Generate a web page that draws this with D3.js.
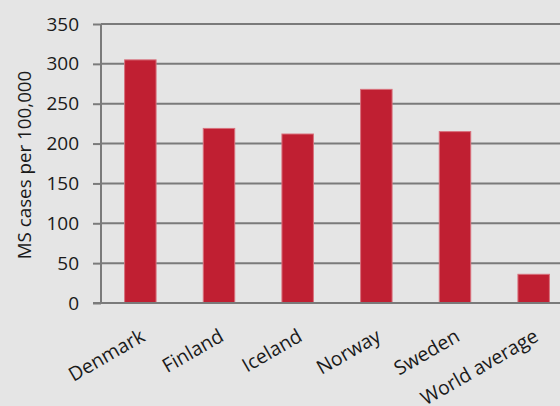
<!DOCTYPE html>
<html>
<head>
<meta charset="utf-8">
<script src="https://cdn.jsdelivr.net/npm/d3@7"></script>
<style>
  body { margin: 0; background: #e5e5e5; }
  svg { display: block; font-family: "Open Sans", sans-serif; }
  .tick text { fill: #1a1a1a; }
</style>
</head>
<body>
<svg id="chart" width="560" height="406"></svg>
<script>
// Data
const countries = ["Denmark", "Finland", "Iceland", "Norway", "Sweden", "World average"];
const msCases = [305, 219, 212, 268, 215, 36];
const yTicks = [0, 50, 100, 150, 200, 250, 300, 350];

const svg = d3.select("#chart");
const margin = { top: 24, left: 101, bottom: 303, right: 573 };

svg.append("rect").attr("width", 560).attr("height", 406).attr("fill", "#e5e5e5");

const x = d3.scaleBand()
  .domain(countries)
  .range([margin.left, margin.right])
  .paddingInner(0.6)
  .paddingOuter(0.3);

const y = d3.scaleLinear().domain([0, 350]).range([margin.bottom, margin.top]);

// gridlines + y ticks
const yAxis = svg.append("g")
  .attr("transform", `translate(${margin.left},0)`)
  .call(d3.axisLeft(y).tickValues(yTicks).tickSize(8).tickPadding(14));
yAxis.select(".domain").remove();
yAxis.selectAll(".tick line").attr("stroke", "#7a7a7a").attr("stroke-width", 2);
yAxis.selectAll(".tick text").attr("font-size", 19).attr("font-family", "Open Sans");

svg.append("g")
  .selectAll("line")
  .data(yTicks)
  .enter()
  .append("line")
  .attr("x1", margin.left)
  .attr("x2", 560)
  .attr("y1", (d) => y(d))
  .attr("y2", (d) => y(d))
  .attr("stroke", "#7a7a7a")
  .attr("stroke-width", 2);

// vertical axis line
svg.append("line")
  .attr("x1", margin.left).attr("x2", margin.left)
  .attr("y1", y(350)).attr("y2", y(0))
  .attr("stroke", "#7a7a7a").attr("stroke-width", 2);

// bars
svg.append("g")
  .selectAll("rect")
  .data(countries)
  .enter()
  .append("rect")
  .attr("x", (d) => x(d))
  .attr("width", x.bandwidth())
  .attr("y", (d, i) => y(msCases[i]))
  .attr("height", (d, i) => y(0) - y(msCases[i]))
  .attr("fill", "#c01f32")
  .attr("stroke", "#d8707c")
  .attr("stroke-width", 1);

// baseline over bars
svg.append("line")
  .attr("x1", margin.left - 8).attr("x2", 560)
  .attr("y1", y(0)).attr("y2", y(0))
  .attr("stroke", "#7a7a7a").attr("stroke-width", 2);

// category labels
svg.append("g")
  .selectAll("text")
  .data(countries)
  .enter()
  .append("text")
  .attr("transform", (d) => `translate(${x(d) + x.bandwidth() / 2 + 6},340) rotate(-30)`)
  .attr("text-anchor", "end")
  .attr("font-size", 19.5)
  .attr("fill", "#1a1a1a")
  .text((d) => d);

// y axis title
svg.append("text")
  .attr("transform", "translate(31,165) rotate(-90)")
  .attr("text-anchor", "middle")
  .attr("font-size", 18.8)
  .attr("fill", "#1a1a1a")
  .text("MS cases per 100,000");
</script>
</body>
</html>
